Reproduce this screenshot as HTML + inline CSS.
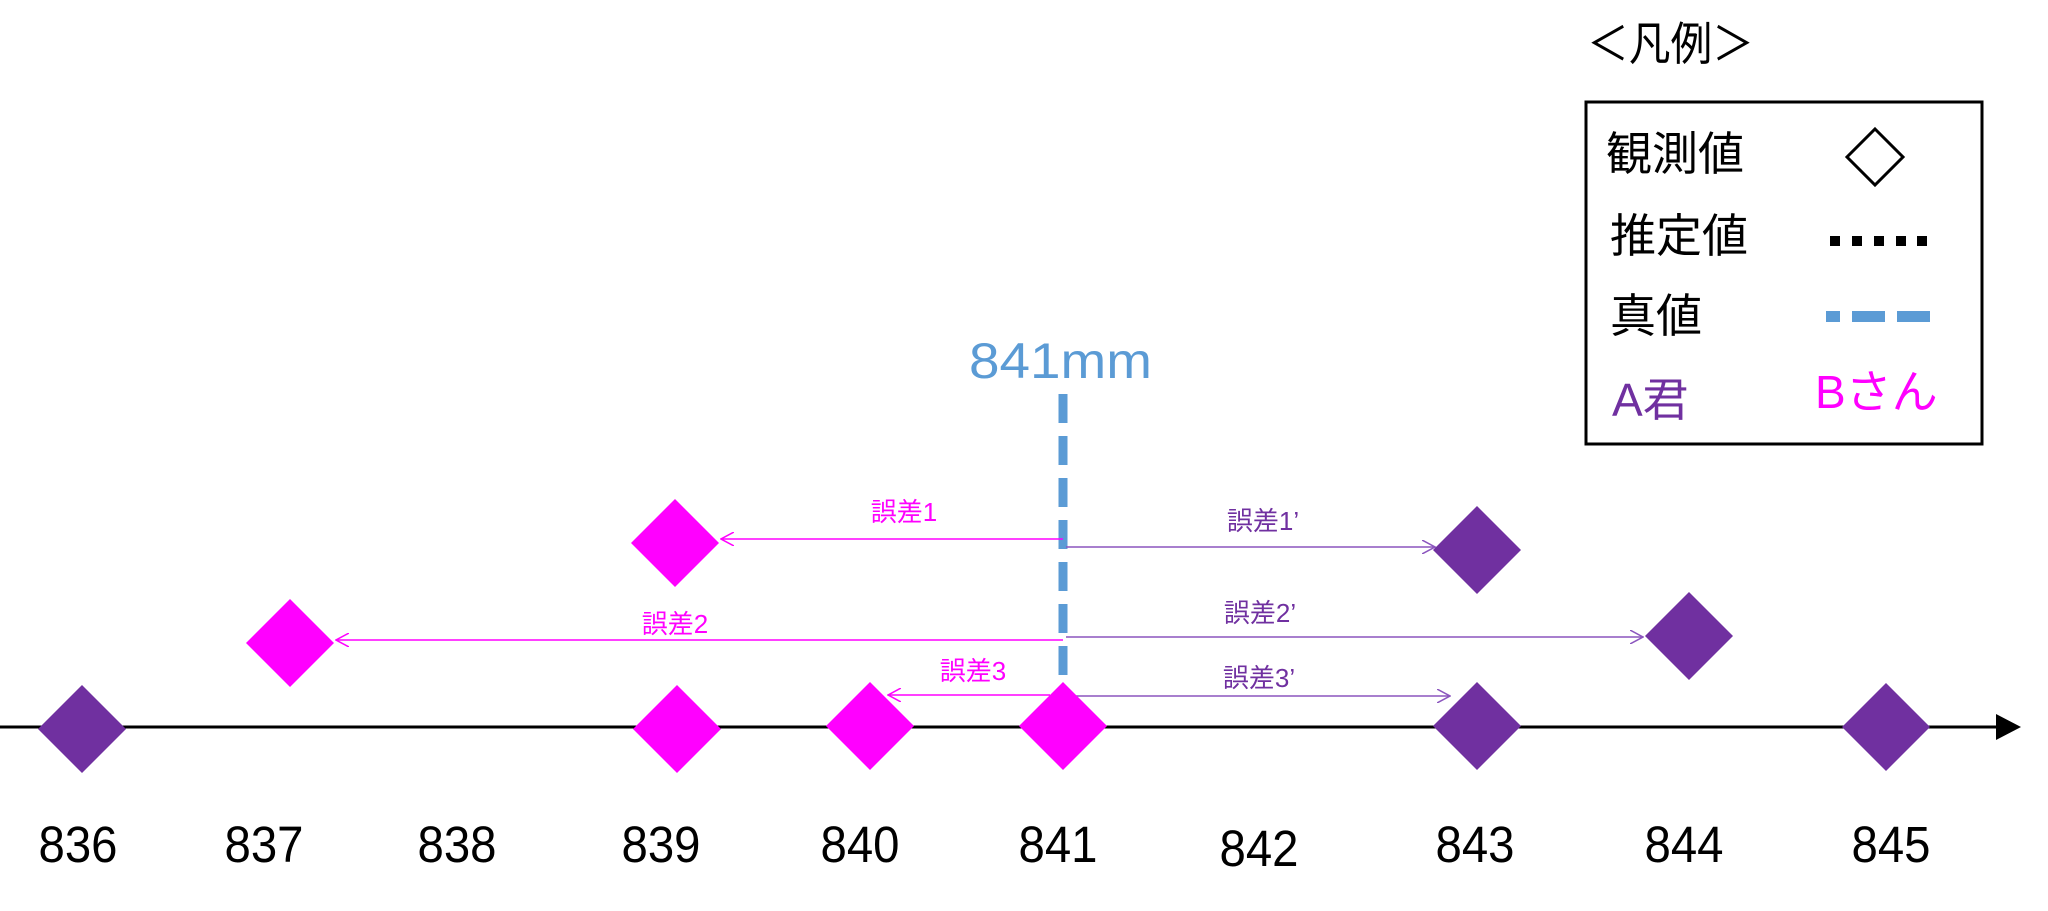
<!DOCTYPE html>
<html><head><meta charset="utf-8"><style>
body{margin:0;background:#fff}
svg{display:block}
text{font-family:"Liberation Sans","Noto Sans CJK JP",sans-serif}
</style></head><body>
<svg width="2048" height="911" viewBox="0 0 2048 911" xmlns="http://www.w3.org/2000/svg">
<defs>
<marker id="am" markerWidth="14" markerHeight="14" refX="13" refY="7" orient="auto" markerUnits="userSpaceOnUse"><path d="M0,0 L13,7 L0,14" fill="none" stroke="#FF00FF" stroke-width="1.5"/></marker>
<marker id="ap" markerWidth="14" markerHeight="14" refX="13" refY="7" orient="auto" markerUnits="userSpaceOnUse"><path d="M0,0 L13,7 L0,14" fill="none" stroke="#8B55BE" stroke-width="1.5"/></marker>
</defs>
<!-- axis -->
<line x1="0" y1="727" x2="1998" y2="727" stroke="#000" stroke-width="3"/>
<polygon points="1996,714 2021,727 1996,740" fill="#000"/>
<!-- true value -->
<line x1="1063" y1="394" x2="1063" y2="700" stroke="#5B9BD5" stroke-width="9" stroke-dasharray="29,13"/>
<text x="969" y="378" font-size="50" fill="#5B9BD5" textLength="183" lengthAdjust="spacingAndGlyphs">841mm</text>
<!-- error arrows -->
<g stroke-width="1.5" fill="none">
<line x1="1063" y1="539" x2="721" y2="539" stroke="#FF00FF" marker-end="url(#am)"/>
<line x1="1063" y1="640" x2="336" y2="640" stroke="#FF00FF" marker-end="url(#am)"/>
<line x1="1050" y1="695" x2="888" y2="695" stroke="#FF00FF" marker-end="url(#am)"/>
<line x1="1066" y1="547" x2="1435" y2="547" stroke="#8B55BE" marker-end="url(#ap)"/>
<line x1="1066" y1="637" x2="1643" y2="637" stroke="#8B55BE" marker-end="url(#ap)"/>
<line x1="1066" y1="696" x2="1450" y2="696" stroke="#8B55BE" marker-end="url(#ap)"/>
</g>
<g font-size="26" text-anchor="middle">
<text x="904" y="521" fill="#FF00FF">誤差1</text>
<text x="675" y="633" fill="#FF00FF">誤差2</text>
<text x="973" y="680" fill="#FF00FF">誤差3</text>
<text x="1263" y="530" fill="#7030A0">誤差1’</text>
<text x="1260" y="622" fill="#7030A0">誤差2’</text>
<text x="1259" y="687" fill="#7030A0">誤差3’</text>
</g>
<!-- diamonds -->
<g>
<polygon points="82,685 126,729 82,773 38,729" fill="#7030A0"/>
<polygon points="675,499 719,543 675,587 631,543" fill="#FF00FF"/>
<polygon points="290,599 334,643 290,687 246,643" fill="#FF00FF"/>
<polygon points="677,685 721,729 677,773 633,729" fill="#FF00FF"/>
<polygon points="870,682 914,726 870,770 826,726" fill="#FF00FF"/>
<polygon points="1063,682 1107,726 1063,770 1019,726" fill="#FF00FF"/>
<polygon points="1477,506 1521,550 1477,594 1433,550" fill="#7030A0"/>
<polygon points="1689,592 1733,636 1689,680 1645,636" fill="#7030A0"/>
<polygon points="1477,682 1521,726 1477,770 1433,726" fill="#7030A0"/>
<polygon points="1886,683 1930,727 1886,771 1842,727" fill="#7030A0"/>
</g>
<!-- tick labels -->
<g font-size="51" fill="#000" text-anchor="middle">
<text x="78" y="862" textLength="79" lengthAdjust="spacingAndGlyphs">836</text>
<text x="264" y="862" textLength="79" lengthAdjust="spacingAndGlyphs">837</text>
<text x="457" y="862" textLength="79" lengthAdjust="spacingAndGlyphs">838</text>
<text x="661" y="862" textLength="79" lengthAdjust="spacingAndGlyphs">839</text>
<text x="860" y="862" textLength="79" lengthAdjust="spacingAndGlyphs">840</text>
<text x="1058" y="862" textLength="79" lengthAdjust="spacingAndGlyphs">841</text>
<text x="1259" y="866" textLength="79" lengthAdjust="spacingAndGlyphs">842</text>
<text x="1475" y="862" textLength="79" lengthAdjust="spacingAndGlyphs">843</text>
<text x="1684" y="862" textLength="79" lengthAdjust="spacingAndGlyphs">844</text>
<text x="1891" y="862" textLength="79" lengthAdjust="spacingAndGlyphs">845</text>
</g>
<!-- legend -->
<text x="1587" y="60" font-size="46" fill="#000" textLength="167" lengthAdjust="spacingAndGlyphs">＜凡例＞</text>
<rect x="1586" y="102" width="396" height="342" fill="none" stroke="#000" stroke-width="3"/>
<g font-size="46">
<text x="1606" y="170" fill="#000">観測値</text>
<text x="1610" y="252" fill="#000">推定値</text>
<text x="1610" y="332" fill="#000">真値</text>
<text x="1612" y="416" fill="#7030A0">A君</text>
<text x="1815" y="408" fill="#FF00FF">Bさん</text>
</g>
<polygon points="1875,129 1903,157 1875,185 1847,157" fill="none" stroke="#000" stroke-width="3"/>
<g fill="#000">
<rect x="1830" y="236" width="10" height="10"/><rect x="1852" y="236" width="10" height="10"/><rect x="1874" y="236" width="10" height="10"/><rect x="1896" y="236" width="10" height="10"/><rect x="1917" y="236" width="10" height="10"/>
</g>
<g fill="#5B9BD5">
<rect x="1826" y="311" width="14" height="11"/><rect x="1852" y="311" width="33" height="11"/><rect x="1897" y="311" width="33" height="11"/>
</g>
</svg>
</body></html>
